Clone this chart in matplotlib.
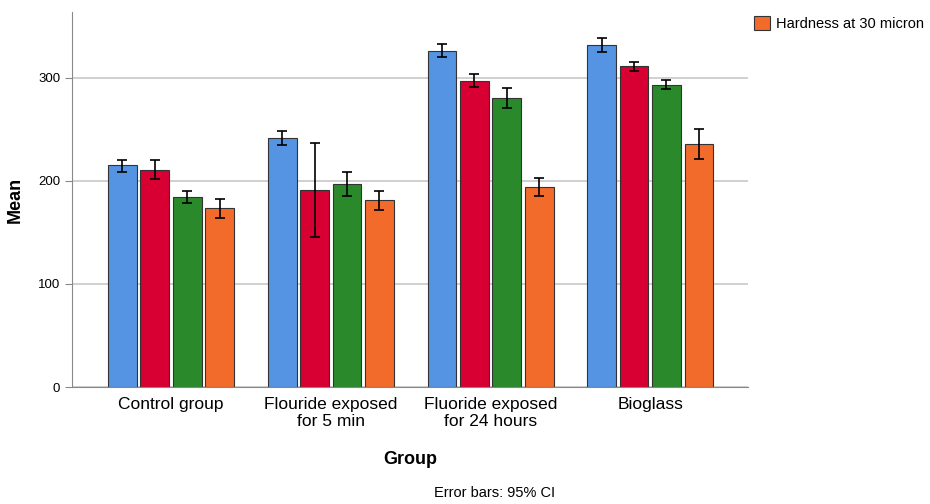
import matplotlib.pyplot as plt
import numpy as np

plt.rcParams['font.family'] = ['Liberation Sans', 'DejaVu Sans']

groups = ['Control group', 'Flouride exposed\nfor 5 min', 'Fluoride exposed\nfor 24 hours', 'Bioglass']
series = ['Hardness at surface', 'Hardness at 10 micron', 'Hardness at 20 micron', 'Hardness at 30 micron']
colors = ['#5594e3', '#d80032', '#2a892a', '#f36b2b']

# means per series (rows) per group (columns)
means = [
    [215.5, 241.7, 326.2, 332.0],
    [210.7, 191.3, 297.0, 312.0],
    [184.5, 197.4, 280.6, 293.5],
    [173.5, 181.2, 193.9, 236.2],
]
# 95% CI bounds
ci_low = [
    [209.0, 235.3, 320.0, 325.0],
    [201.6, 146.0, 291.0, 307.0],
    [179.0, 185.4, 270.9, 289.0],
    [164.4, 171.8, 185.4, 221.4],
]
ci_high = [
    [220.7, 248.5, 332.7, 339.0],
    [220.0, 236.9, 303.9, 315.5],
    [190.3, 209.0, 290.3, 297.7],
    [182.2, 190.6, 202.9, 250.8],
]

fig = plt.figure(figsize=(9.3, 5.04), dpi=100)
ax = fig.add_axes([0.0774, 0.2321, 0.7266, 0.7441])

x = np.arange(len(groups))
step = 0.203
width = 0.18
handles = []
for i in range(len(series)):
    m = np.array(means[i])
    lo = m - np.array(ci_low[i])
    hi = np.array(ci_high[i]) - m
    pos = x + (i - 1.5) * step
    b = ax.bar(pos, m, width, color=colors[i], edgecolor='#333333', linewidth=0.8,
               label=series[i], zorder=2)
    ax.errorbar(pos, m, yerr=[lo, hi], fmt='none', ecolor='black', elinewidth=1.2,
                capsize=3.5, capthick=1.2, zorder=3)
    handles.append(b)

ax.set_xlim(-0.62, 3.61)
ax.set_ylim(0, 364)
ax.set_yticks([0, 100, 200, 300])
ax.set_xticks(x)
ax.set_xticklabels(groups, fontsize=12.5)
ax.tick_params(axis='y', labelsize=9.5, length=5, color='#888888')
ax.tick_params(axis='x', length=0, pad=7)
ax.yaxis.grid(True, color='#c8c8c8', linewidth=1.2, zorder=0)
ax.set_axisbelow(True)
for s in ['top', 'right']:
    ax.spines[s].set_visible(False)
for s in ['left', 'bottom']:
    ax.spines[s].set_color('#888888')

ax.set_ylabel('Mean', fontsize=13, fontweight='bold', labelpad=10)
ax.set_xlabel('Group', fontsize=13, fontweight='bold', labelpad=16)

fig.legend([handles[-1]], [series[-1]], loc='upper left', bbox_to_anchor=(0.797, 0.995),
           frameon=False, fontsize=10.5, handlelength=1.1, handleheight=1.1, handletextpad=0.4)

fig.text(0.532, 0.022, 'Error bars: 95% CI', ha='center', va='center', fontsize=10.5)

fig.savefig('out.png', dpi=100)
